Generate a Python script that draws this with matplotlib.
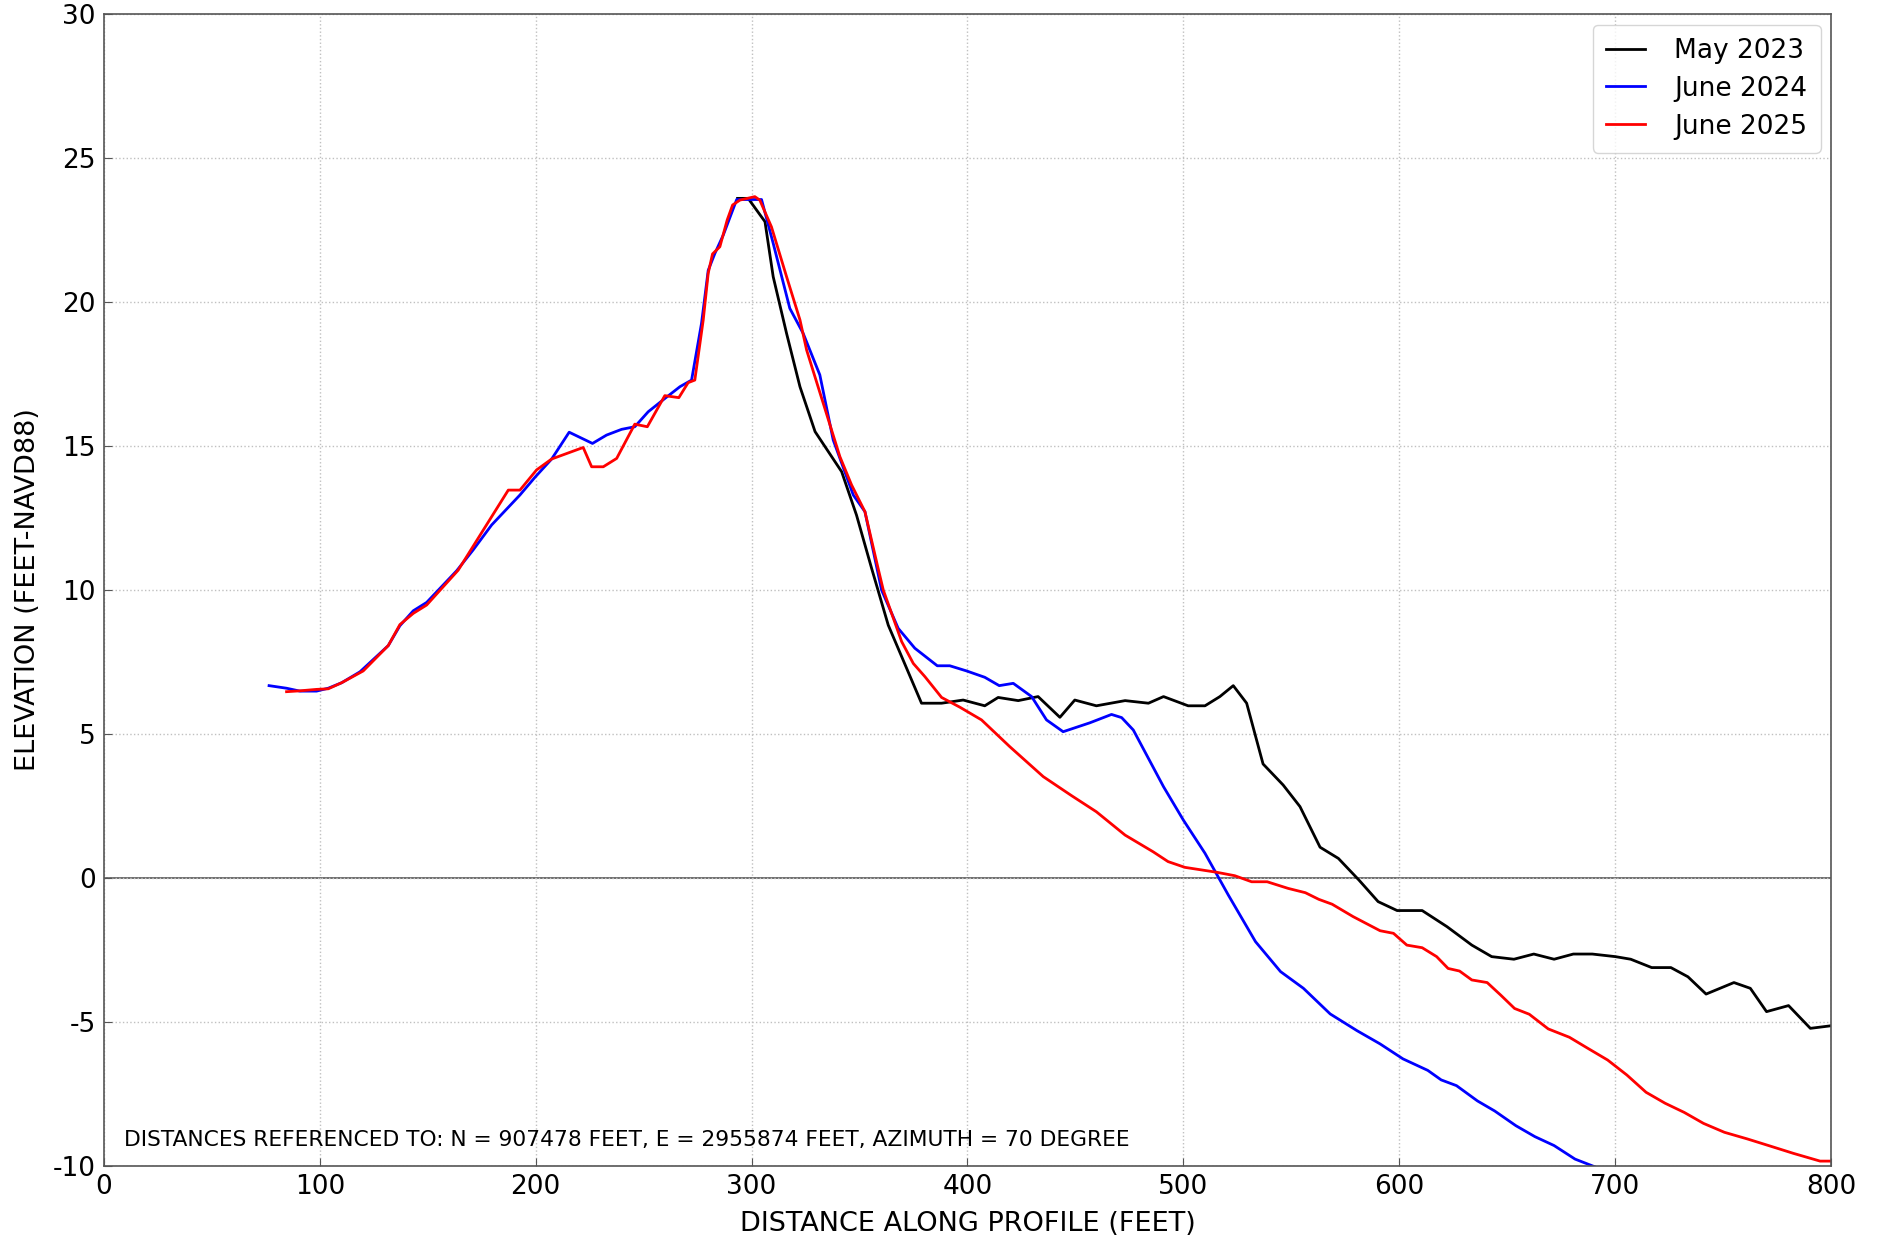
import matplotlib
matplotlib.use("Agg")
import matplotlib.pyplot as plt

plt.rcParams['font.family'] = ['DejaVu Sans']
plt.rcParams['axes.unicode_minus'] = False

# May 2023 survey
may23_x = [293.5, 298.4, 306.2, 310.0, 316.2, 322.4, 329.4, 337.1, 341.7, 348.6,
           355.6, 363.3, 378.7, 388.0, 398.0, 408.0, 414.2, 423.5, 432.7, 442.8,
           449.7, 459.7, 473.0, 483.8, 490.8, 502.2, 510.0, 516.9, 523.1, 529.3,
           536.9, 546.2, 554.0, 563.3, 571.8, 581.3, 590.2, 599.0, 610.6, 622.1,
           633.6, 642.8, 653.1, 662.3, 671.7, 680.6, 689.4, 700.1, 707.2, 716.9,
           725.8, 733.7, 742.1, 755.0, 762.6, 770.1, 780.3, 790.4, 800.0]
may23_z = [23.6, 23.6, 22.79, 20.88, 18.91, 17.06, 15.5, 14.63, 14.11, 12.6,
           10.75, 8.78, 6.07, 6.07, 6.18, 5.98, 6.27, 6.16, 6.30, 5.58,
           6.18, 5.98, 6.16, 6.07, 6.30, 5.98, 5.98, 6.30, 6.68, 6.07,
           3.96, 3.23, 2.48, 1.07, 0.68, -0.07, -0.82, -1.13, -1.13, -1.69,
           -2.33, -2.73, -2.82, -2.64, -2.82, -2.64, -2.64, -2.73, -2.82, -3.11,
           -3.11, -3.43, -4.03, -3.63, -3.83, -4.64, -4.43, -5.22, -5.13]

# June 2024 survey
jun24_x = [76.5, 84.6, 90.8, 98.5, 103.9, 110.1, 118.6, 131.7, 137.1, 143.3,
           149.5, 163.4, 171.0, 179.6, 192.7, 199.6, 207.4, 215.5, 226.3, 232.8,
           239.8, 245.9, 252.1, 259.8, 266.8, 272.2, 276.8, 279.9, 283.0, 286.9,
           293.1, 304.6, 310.0, 317.7, 323.9, 331.6, 337.8, 347.1, 352.5, 360.2,
           367.9, 375.6, 386.0, 391.8, 399.6, 408.0, 414.7, 421.2, 429.7, 436.6,
           444.3, 456.7, 466.7, 471.4, 476.8, 490.8, 500.0, 510.0, 520.8, 533.4,
           545.0, 555.6, 568.0, 580.4, 591.1, 601.7, 613.2, 619.4, 626.5, 636.2,
           644.2, 654.0, 662.8, 671.7, 681.4, 690.3]
jun24_z = [6.68, 6.59, 6.49, 6.49, 6.59, 6.78, 7.16, 8.07, 8.76, 9.28,
           9.57, 10.67, 11.39, 12.26, 13.30, 13.91, 14.55, 15.48, 15.09, 15.38,
           15.58, 15.67, 16.19, 16.65, 17.06, 17.29, 19.26, 21.1, 21.69, 22.33,
           23.56, 23.56, 22.04, 19.78, 18.91, 17.47, 15.21, 13.3, 12.72, 10.0,
           8.67, 7.98, 7.37, 7.37, 7.19, 6.97, 6.68, 6.76, 6.30, 5.49,
           5.08, 5.39, 5.68, 5.57, 5.14, 3.17, 2.01, 0.86, -0.59, -2.21,
           -3.25, -3.83, -4.72, -5.30, -5.76, -6.28, -6.68, -7.01, -7.21, -7.74,
           -8.09, -8.6, -8.98, -9.29, -9.76, -10.02]

# June 2025 survey
jun25_x = [84.6, 90.8, 98.5, 103.9, 110.1, 120.1, 131.7, 137.1, 143.3, 149.5,
           164.1, 187.3, 192.7, 200.4, 207.4, 222.0, 225.9, 231.3, 237.5, 245.9,
           251.7, 259.8, 266.3, 270.6, 273.7, 277.6, 279.9, 281.9, 285.3, 288.7,
           291.2, 294.6, 301.5, 303.8, 309.2, 316.2, 322.4, 325.5, 333.2, 340.9,
           346.3, 352.5, 358.6, 361.0, 369.5, 374.9, 380.3, 388.0, 396.5, 406.5,
           419.6, 435.1, 448.2, 459.7, 473.0, 486.0, 492.9, 500.7, 515.4, 523.8,
           531.6, 538.8, 548.5, 556.5, 562.7, 568.9, 578.6, 591.1, 597.3, 603.5,
           610.6, 617.3, 622.6, 627.9, 633.6, 640.7, 646.9, 653.4, 660.2, 669.0,
           678.8, 686.8, 696.5, 705.4, 714.3, 723.1, 732.0, 740.9, 750.6, 761.2,
           771.9, 782.5, 794.9, 800.0]
jun25_z = [6.47, 6.5, 6.55, 6.57, 6.78, 7.19, 8.07, 8.8, 9.19, 9.48,
           10.69, 13.47, 13.47, 14.17, 14.55, 14.95, 14.28, 14.28, 14.57, 15.76,
           15.67, 16.75, 16.68, 17.2, 17.29, 19.38, 21.0, 21.67, 21.92, 22.85,
           23.37, 23.54, 23.66, 23.54, 22.61, 20.88, 19.38, 18.33, 16.48, 14.63,
           13.65, 12.72, 10.75, 10.0, 8.21, 7.45, 6.99, 6.27, 5.93, 5.49,
           4.56, 3.52, 2.86, 2.30, 1.49, 0.91, 0.57, 0.37, 0.20, 0.08,
           -0.13, -0.13, -0.36, -0.51, -0.74, -0.91, -1.34, -1.83, -1.92, -2.33,
           -2.42, -2.73, -3.14, -3.23, -3.54, -3.63, -4.06, -4.53, -4.73, -5.24,
           -5.53, -5.89, -6.32, -6.84, -7.44, -7.82, -8.14, -8.52, -8.83, -9.06,
           -9.31, -9.56, -9.83, -9.83]

fig = plt.figure(figsize=(18.79, 12.44), dpi=100)
ax = fig.add_axes([0.0553, 0.0627, 0.9192, 0.926])

ax.plot(may23_x, may23_z, color='black', lw=2.0, label='May 2023')
ax.plot(jun24_x, jun24_z, color='blue', lw=2.0, label='June 2024')
ax.plot(jun25_x, jun25_z, color='red', lw=2.0, label='June 2025')
ax.axhline(0, color='#555555', lw=1.2, zorder=1)

ax.set_xlim(0, 800)
ax.set_ylim(-10, 30)
ax.set_xticks(range(0, 801, 100))
ax.set_yticks(range(-10, 31, 5))
ax.grid(True, linestyle=':', color='#c0c0c0', lw=1)
ax.tick_params(direction='in', labelsize=19, length=6, color='#555555', pad=6)
for s in ax.spines.values():
    s.set_color('#555555')
    s.set_linewidth(1.2)

ax.set_xlabel('DISTANCE ALONG PROFILE (FEET)', fontsize=19.5, labelpad=8)
ax.set_ylabel('ELEVATION (FEET-NAVD88)', fontsize=19.5, labelpad=8)

ax.text(0.0115, 0.023,
        'DISTANCES REFERENCED TO: N = 907478 FEET, E = 2955874 FEET, AZIMUTH = 70 DEGREE',
        transform=ax.transAxes, fontsize=15.7, va='center', ha='left')

ax.legend(loc='upper right', fontsize=19, frameon=True, edgecolor='#cccccc',
          handlelength=1.5, handletextpad=1.1, borderpad=0.5, labelspacing=0.45,
          borderaxespad=0.4)

fig.savefig('out.png', dpi=100)
